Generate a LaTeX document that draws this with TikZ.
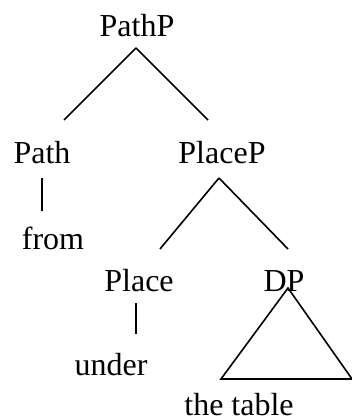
\documentclass[tikz,border=0pt]{standalone}
\usepackage{fontspec}
\setmainfont{Liberation Serif}
\usepackage{tikz}

\begin{document}
\begin{tikzpicture}[x=1pt, y=1pt, line width=1.6pt,
		cat/.style={anchor=base, inner sep=0pt, font=\fontsize{32}{38}\selectfont}]
		\useasboundingbox (0,0) rectangle (352,-419);

		\node[cat] (pathp) at (137,-37) {PathP};
		\node[cat] (path) at (42,-164) {Path};
		\node[cat] (placep) at (222,-164) {PlaceP};
		\node[cat] (from) at (53,-249) {from};
		\node[cat] (place) at (139,-291) {Place};
		\node[cat] (dp) at (284,-291) {DP};
		\node[cat] (under) at (111,-375) {under};
		\node[cat] (table) at (239,-415) {the table};

		\draw ([shift={(-1,-11)}]pathp.base) -- ([shift={(22,44)}]path.base);
		\draw ([shift={(-1,-11)}]pathp.base) -- ([shift={(-14,44)}]placep.base);
		\draw ([shift={(0,-14)}]path.base) -- ([shift={(-11,38)}]from.base);
		\draw ([shift={(-3,-14)}]placep.base) -- ([shift={(21,42)}]place.base);
		\draw ([shift={(-3,-14)}]placep.base) -- ([shift={(4,42)}]dp.base);
		\draw ([shift={(-3,-12)}]place.base) -- ([shift={(25,41)}]under.base);
		\draw ([shift={(4,3)}]dp.base) -- ([shift={(-18,36)}]table.base)
			-- ([shift={(113,36)}]table.base) -- cycle;
	\end{tikzpicture}
\end{document}
